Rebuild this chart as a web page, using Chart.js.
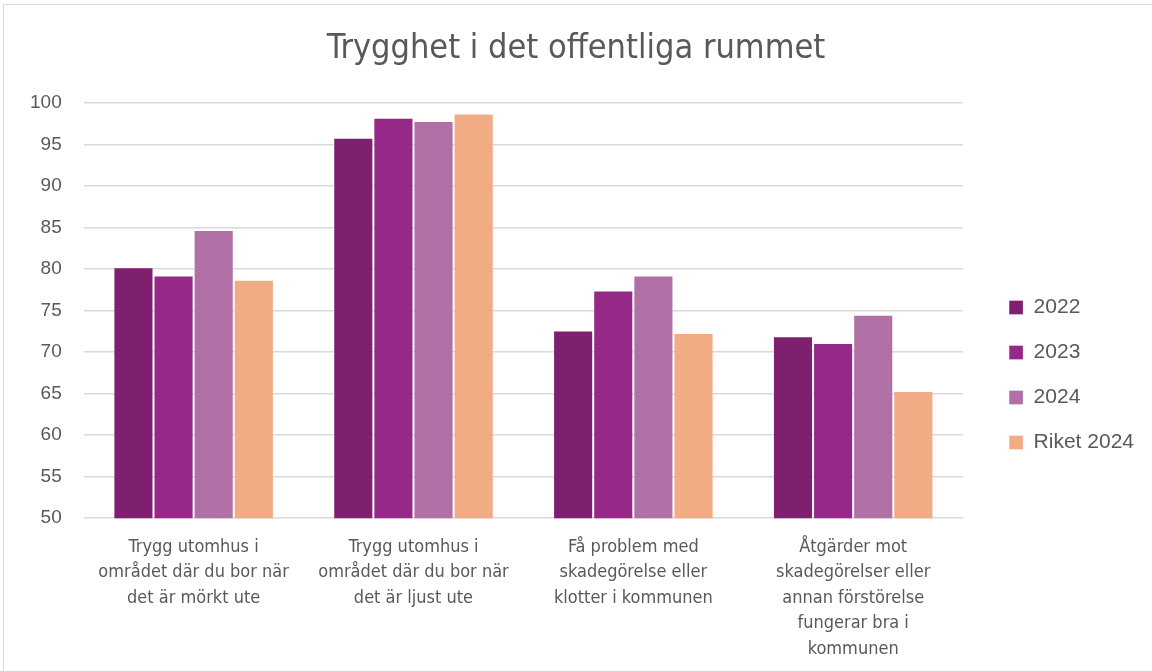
<!DOCTYPE html>
<html>
<head>
<meta charset="utf-8">
<script src="https://cdn.jsdelivr.net/npm/chart.js@4"></script>
<style>
  body { margin: 0; background: #fff; }
  #frame { position: absolute; left: 3px; top: 4px; width: 1170px; height: 700px; border: 1px solid #d9d9d9; }
  #wrap { position: absolute; left: 0; top: 0; width: 1152px; height: 671px; }
</style>
</head>
<body>
<div id="frame"></div>
<div id="wrap"><canvas id="chart"></canvas></div>
<script>
/* categories */
const categories = [
    ["Trygg utomhus i", "området där du bor när", "det är mörkt ute"],
    ["Trygg utomhus i", "området där du bor när", "det är ljust ute"],
    ["Få problem med", "skadegörelse eller", "klotter i kommunen"],
    ["Åtgärder mot", "skadegörelser eller", "annan förstörelse", "fungerar bra i", "kommunen"]
];

/* series */
const v2022 = [80.2, 95.8, 72.6, 71.9];
const v2023 = [79.2, 98.2, 77.4, 71.1];
const v2024 = [84.7, 97.8, 79.2, 74.5];
const riket2024 = [78.7, 98.7, 72.3, 65.3];

/* y ticks */
const yMin = 50;
const yMax = 100;
const yStep = 5;

const grey = '#595959';
const narrow = '"Liberation Sans Narrow", "DejaVu Sans Condensed", sans-serif';

function ds(label, data, colour) {
    return {
        label: label,
        data: data,
        backgroundColor: colour,
        borderColor: 'rgba(255,255,255,0.3)',
        borderWidth: 1,
        categoryPercentage: 0.73,
        barPercentage: 1.0,
        yAxisID: 'y'
    };
}

new Chart(document.getElementById('chart'), {
    type: 'bar',
    data: {
        labels: categories,
        datasets: [
            ds('2022', v2022, '#7e1f70'),
            ds('2023', v2023, '#962887'),
            ds('2024', v2024, '#b070a6'),
            ds('Riket 2024', riket2024, '#f1ab85')
        ]
    },
    options: {
        responsive: true,
        maintainAspectRatio: false,
        animation: false,
        layout: { padding: { left: 8, right: 8, top: 0, bottom: 1 } },
        plugins: {
            title: {
                display: true,
                text: 'Trygghet i det offentliga rummet',
                color: grey,
                font: { family: narrow, size: 34, weight: 'normal' },
                padding: { top: 29, bottom: 33 }
            },
            legend: {
                position: 'right',
                title: { display: true, text: '', font: { size: 20 }, padding: 28 },
                labels: {
                    color: grey,
                    font: { family: 'Liberation Sans, sans-serif', size: 21 },
                    boxWidth: 14,
                    boxHeight: 14,
                    padding: 24
                }
            },
            tooltip: { enabled: false }
        },
        scales: {
            x: {
                grid: { display: false },
                border: { display: false },
                ticks: {
                    color: grey,
                    font: { family: narrow, size: 18, lineHeight: 1.42 },
                    maxRotation: 0,
                    autoSkip: false,
                    padding: 8
                }
            },
            y: {
                min: yMin,
                max: yMax,
                grid: { color: '#d9d9d9', lineWidth: 1.5, drawTicks: false },
                border: { display: false },
                ticks: {
                    stepSize: yStep,
                    color: grey,
                    font: { family: 'Liberation Sans, sans-serif', size: 19 },
                    padding: 22
                }
            },
            gap: {
                position: 'right',
                grid: { display: false },
                border: { display: false },
                ticks: { display: false },
                afterFit: s => { s.width = 22; }
            }
        }
    }
});
</script>
</body>
</html>
